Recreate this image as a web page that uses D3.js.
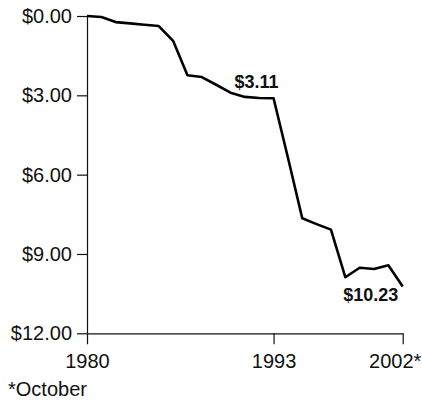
<!DOCTYPE html>
<html>
<head>
<meta charset="utf-8">
<script src="https://cdn.jsdelivr.net/npm/d3@7"></script>
<style>
  body { margin: 0; background: #fff; }
  text { font-family: Arial, "Liberation Sans", sans-serif; fill: #111; }
</style>
</head>
<body>
<div id="chart"></div>
<script>
// data
var years = [1980, 1981, 1982, 1983, 1984, 1985, 1986, 1987, 1988, 1989, 1990, 1991,
             1992, 1993, 1994, 1995, 1996, 1997, 1998, 1999, 2000, 2001, 2002];
var values = [0.00, 0.04, 0.23, 0.28, 0.33, 0.38, 0.94, 2.24, 2.31, 2.60, 2.90, 3.06,
              3.10, 3.11, 5.35, 7.65, 7.87, 8.08, 9.88, 9.52, 9.57, 9.43, 10.23];
var yTicks = [0, 3, 6, 9, 12];
var xTicks = [1980, 1993, 2002];
var xTickLabels = ["1980", "1993", "2002*"];
var callouts = [{year: 1993, value: 3.11, label: "$3.11"},
                {year: 2002, value: 10.23, label: "$10.23"}];
var footnote = "*October";

var data = years.map(function(d, i) { return {year: d, value: values[i]}; });

var width = 422, height = 401;

var svg = d3.select("#chart")
  .append("svg")
    .attr("width", width)
    .attr("height", height);

var x = d3.scaleLinear()
  .domain([1980, 2002])
  .range([87, 402.7]);

var y = d3.scaleLinear()
  .domain([0, 12])
  .range([16, 333.3]);

// Y axis
var yAxis = svg.append("g")
  .attr("transform", "translate(" + x(1980) + ",0)")
  .call(d3.axisLeft(y)
    .tickValues(yTicks)
    .tickSize(10)
    .tickSizeOuter(0)
    .tickPadding(5)
    .tickFormat(function(d) { return "$" + d.toFixed(2); }));

// X axis
var xAxis = svg.append("g")
  .attr("transform", "translate(0," + y(12) + ")")
  .call(d3.axisBottom(x)
    .tickValues(xTicks)
    .tickSize(11)
    .tickSizeOuter(0)
    .tickPadding(10)
    .tickFormat(function(d, i) { return xTickLabels[i]; }));

svg.selectAll(".domain, .tick line")
  .attr("stroke", "#111")
  .attr("stroke-width", 1.2);

svg.selectAll(".tick text")
  .style("font-size", "20px")
  .attr("fill", "#111");

// last label sits a little left so the star fits
xAxis.selectAll(".tick text")
  .filter(function(d) { return d === 2002; })
  .attr("dx", "-8");

// the line
var line = d3.line()
  .x(function(d) { return x(d.year); })
  .y(function(d) { return y(d.value); });

svg.append("path")
  .datum(data)
  .attr("fill", "none")
  .attr("stroke", "#000")
  .attr("stroke-width", 2.6)
  .attr("stroke-linejoin", "round")
  .attr("d", line);

// callout labels
svg.selectAll(".callout")
  .data(callouts)
  .enter()
  .append("text")
    .attr("class", "callout")
    .attr("text-anchor", "middle")
    .attr("x", function(d) { return d.year === 1993 ? x(d.year) - 17 : x(d.year) - 32; })
    .attr("y", function(d) { return d.year === 1993 ? y(d.value) - 10 : y(d.value) + 15; })
    .style("font-size", "18px")
    .style("font-weight", "bold")
    .text(function(d) { return d.label; });

// footnote
svg.append("text")
  .attr("x", 8)
  .attr("y", 396)
  .style("font-size", "20px")
  .text(footnote);
</script>
</body>
</html>
